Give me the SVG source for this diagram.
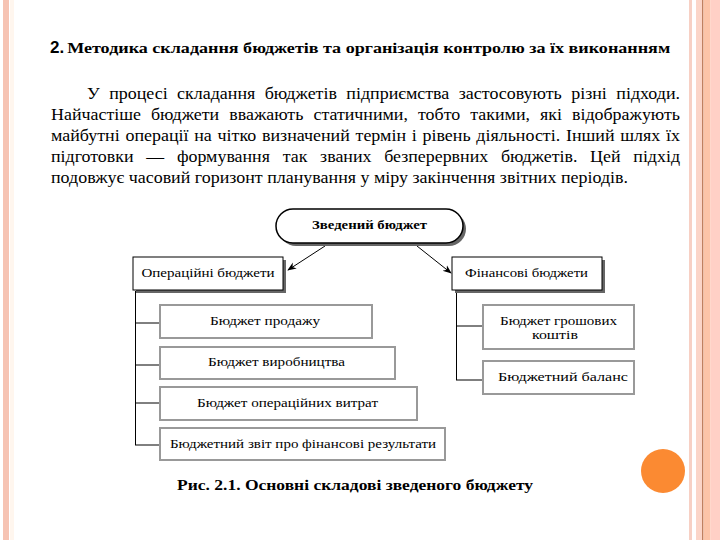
<svg xmlns="http://www.w3.org/2000/svg" width="720" height="540" viewBox="0 0 720 540">
<defs>
<style>
.serif{font-family:'Liberation Serif','Times New Roman',serif;fill:#000}
.bx{font-size:13px}
.gbox{fill:#fff;stroke:#999;stroke-width:2}
.bbox{fill:#fff;stroke:#000;stroke-width:1}
.shadow{fill:#666}
.ln{stroke:#000;stroke-width:1;fill:none}
</style>
<marker id="ah" viewBox="0 0 10 10" refX="9" refY="5" markerWidth="9" markerHeight="9" orient="auto" markerUnits="userSpaceOnUse">
<path d="M0,1 L10,5 L0,9 L3,5 Z" fill="#000"/>
</marker>
</defs>
<rect width="720" height="540" fill="#fff"/>
<!-- decorative borders -->
<rect x="3" y="0" width="6" height="540" fill="#f6c3b3"/>
<rect x="10" y="0" width="4" height="540" fill="#fff6ee"/>
<rect x="689" y="0" width="3" height="540" fill="#f7d0c4"/>
<rect x="696" y="0" width="6" height="540" fill="#fbd5c8"/>
<rect x="702" y="0" width="1.5" height="540" fill="#c08060"/>
<rect x="703.5" y="0" width="7" height="540" fill="#fcc4a8"/>
<rect x="710.5" y="0" width="9.5" height="540" fill="#ffd0c6"/>
<circle cx="663" cy="471" r="22" fill="#fb8a32"/>

<!-- heading -->
<text x="50" y="53" font-weight="bold" fill="#000"><tspan font-family="Liberation Sans, Arial, sans-serif" font-size="17">2.</tspan><tspan font-family="Liberation Serif, Times New Roman, serif" font-size="14.5" textLength="603" lengthAdjust="spacingAndGlyphs" dx="3">Методика складання бюджетів та організація контролю за їх виконанням</tspan></text>

<!-- paragraph -->
<g font-family="Liberation Serif, Times New Roman, serif" font-size="16" fill="#000">
<text x="87" y="99" word-spacing="4.4" textLength="593" lengthAdjust="spacingAndGlyphs">У процесі складання бюджетів підприємства застосовують різні підходи.</text>
<text x="51" y="120" word-spacing="5" textLength="629" lengthAdjust="spacingAndGlyphs">Найчастіше бюджети вважають статичними, тобто такими, які відображують</text>
<text x="51" y="141" word-spacing="1.1" textLength="629" lengthAdjust="spacingAndGlyphs">майбутні операції на чітко визначений термін і рівень діяльності. Інший шлях їх</text>
<text x="51" y="162" word-spacing="7.4" textLength="629" lengthAdjust="spacingAndGlyphs">підготовки — формування так званих безперервних бюджетів. Цей підхід</text>
<text x="51" y="183" textLength="577" lengthAdjust="spacingAndGlyphs">подовжує часовий горизонт планування у міру закінчення звітних періодів.</text>
</g>

<!-- connectors -->
<g id="connectors">
<line class="ln" x1="325" y1="246" x2="288" y2="270" marker-end="url(#ah)" stroke-width="1.5"/>
<line class="ln" x1="417" y1="246" x2="451" y2="273" marker-end="url(#ah)" stroke-width="1.5"/>
<line class="ln" x1="135.5" y1="291" x2="135.5" y2="445"/>
<line class="ln" x1="135" y1="323" x2="160" y2="323"/>
<line class="ln" x1="135" y1="365" x2="160" y2="365"/>
<line class="ln" x1="135" y1="403" x2="160" y2="403"/>
<line class="ln" x1="135" y1="445" x2="160" y2="445"/>
<line class="ln" x1="456.5" y1="291" x2="456.5" y2="380"/>
<line class="ln" x1="456" y1="326" x2="483" y2="326"/>
<line class="ln" x1="456" y1="380" x2="483" y2="380"/>
</g>

<!-- nodes -->
<g id="node-zved">
<rect x="279" y="212" width="187" height="34" rx="17" class="shadow"/>
<rect x="276" y="209" width="187" height="34" rx="17" fill="#fff" stroke="#000" stroke-width="1.5"/>
<text class="serif" x="369.5" y="229" font-size="13" font-weight="bold" text-anchor="middle" textLength="115" lengthAdjust="spacingAndGlyphs">Зведений бюджет</text>
</g>
<g id="node-oper">
<rect x="136" y="260" width="150" height="33" class="shadow"/>
<rect x="133" y="257" width="150" height="33" class="bbox"/>
<text class="serif bx" x="208" y="277" text-anchor="middle" textLength="133" lengthAdjust="spacingAndGlyphs">Операційні бюджети</text>
</g>
<g id="node-fin">
<rect x="455" y="260" width="150" height="33" class="shadow"/>
<rect x="452" y="257" width="150" height="33" class="bbox"/>
<text class="serif bx" x="526.5" y="277" text-anchor="middle" textLength="123" lengthAdjust="spacingAndGlyphs">Фінансові бюджети</text>
</g>
<g id="node-prod">
<rect x="160" y="305" width="212" height="33" class="gbox"/>
<text class="serif bx" x="265" y="325" text-anchor="middle" textLength="110" lengthAdjust="spacingAndGlyphs">Бюджет продажу</text>
</g>
<g id="node-vyrob">
<rect x="160" y="347" width="235" height="32" class="gbox"/>
<text class="serif bx" x="276.5" y="366" text-anchor="middle" textLength="137" lengthAdjust="spacingAndGlyphs">Бюджет виробництва</text>
</g>
<g id="node-operv">
<rect x="160" y="387" width="257" height="33" class="gbox"/>
<text class="serif bx" x="287.5" y="407" text-anchor="middle" textLength="181" lengthAdjust="spacingAndGlyphs">Бюджет операційних витрат</text>
</g>
<g id="node-zvit">
<rect x="160" y="428" width="285" height="32" class="gbox"/>
<text class="serif bx" x="303" y="448" text-anchor="middle" textLength="266" lengthAdjust="spacingAndGlyphs">Бюджетний звіт про фінансові результати</text>
</g>
<g id="node-grosh">
<rect x="483" y="305" width="151" height="44" class="gbox"/>
<text class="serif bx" x="558.5" y="325" text-anchor="middle" textLength="117" lengthAdjust="spacingAndGlyphs">Бюджет грошових</text>
<text class="serif bx" x="555" y="339" text-anchor="middle" textLength="46" lengthAdjust="spacingAndGlyphs">коштів</text>
</g>
<g id="node-balans">
<rect x="483" y="361" width="151" height="33" class="gbox"/>
<text class="serif bx" x="563" y="381" text-anchor="middle" textLength="130" lengthAdjust="spacingAndGlyphs">Бюджетний баланс</text>
</g>

<!-- caption -->
<text class="serif" x="355" y="490" font-size="15" font-weight="bold" text-anchor="middle" textLength="356" lengthAdjust="spacingAndGlyphs">Рис. 2.1. Основні складові зведеного бюджету</text>
</svg>
